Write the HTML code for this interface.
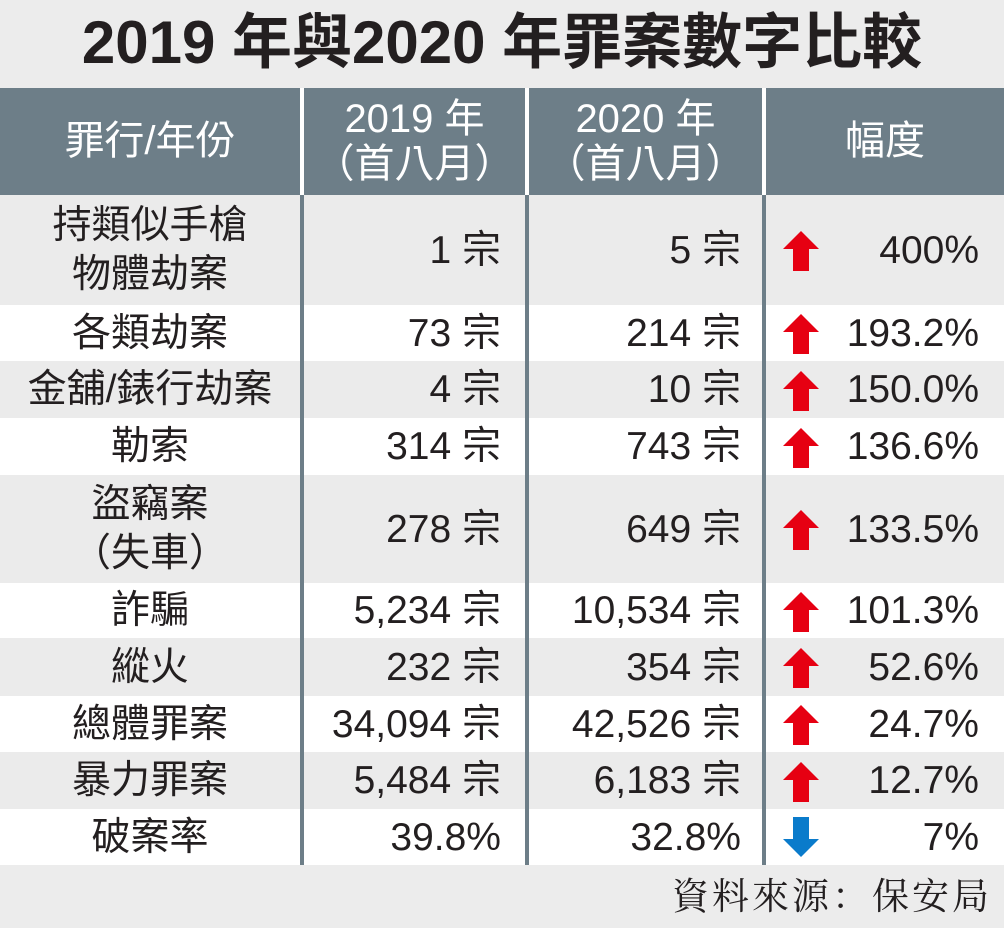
<!DOCTYPE html>
<html><head><meta charset="utf-8">
<style>
body{margin:0;width:1004px;height:928px;background:#ececec;position:relative;overflow:hidden;font-family:"Liberation Sans","Noto Sans CJK TC",sans-serif;color:#231f20}
.abs{position:absolute}
#title{left:0;top:0;width:1004px;height:86px;text-align:center;font-size:60px;font-weight:bold;line-height:86px;letter-spacing:0px}
#header{left:0;top:88px;width:1004px;height:107px;background:#6d7e88}
.hcell{position:absolute;top:88px;height:107px;color:#fff;font-size:40px;line-height:45px;display:flex;align-items:center;justify-content:center;text-align:center}
.row{position:absolute;left:0;width:1004px}
.cell{position:absolute;font-size:39px;line-height:49px;display:flex;align-items:center}
.vline{position:absolute;width:4px;background:#6d7e88}
.hv{position:absolute;width:4px;background:#fff;top:88px;height:107px}
#source{right:12px;top:864px;font-family:"Noto Serif CJK SC","Liberation Serif",serif;font-size:37px;line-height:58px;letter-spacing:3px}
</style></head>
<body>
<div id="title" class="abs">2019 年與2020 年罪案數字比較</div>
<div id="header" class="abs"></div>
<div class="hcell" style="left:0;width:300px">罪行/年份</div>
<div class="hcell" style="left:304px;width:221px">2019 年<br>（首八月）</div>
<div class="hcell" style="left:529px;width:233px">2020 年<br>（首八月）</div>
<div class="hcell" style="left:766px;width:238px">幅度</div>
<div class="hv" style="left:300px"></div>
<div class="hv" style="left:525px"></div>
<div class="hv" style="left:762px"></div>
<div id="body"></div>
<div id="source" class="abs">資料來源：保安局</div>
<script>
const crimes=["持類似手槍<br>物體劫案","各類劫案","金舖/錶行劫案","勒索","盜竊案<br>（失車）","詐騙","縱火","總體罪案","暴力罪案","破案率"];
const v2019=["1 宗","73 宗","4 宗","314 宗","278 宗","5,234 宗","232 宗","34,094 宗","5,484 宗","39.8%"];
const v2020=["5 宗","214 宗","10 宗","743 宗","649 宗","10,534 宗","354 宗","42,526 宗","6,183 宗","32.8%"];
const changes=["400%","193.2%","150.0%","136.6%","133.5%","101.3%","52.6%","24.7%","12.7%","7%"];
const directions=["up","up","up","up","up","up","up","up","up","down"];
const rowTops=[195,305,361,418,475,583,638,696,752,809,865];
const body=document.getElementById('body');
for(let i=0;i<crimes.length;i++){
  const t=rowTops[i],h=rowTops[i+1]-t;
  const r=document.createElement('div');
  
  
  r.className='row';r.style.top=t+'px';r.style.height=h+'px';
  r.style.background=i%2===0?'#ebebeb':'#ffffff';
  const mk=(html,left,width,just)=>{const c=document.createElement('div');c.className='cell';c.innerHTML=html;c.style.left=left+'px';c.style.width=width+'px';c.style.top='0';c.style.height=h+'px';c.style.justifyContent=just;c.style.textAlign='center';return c;};
  const c1=mk(crimes[i],0,300,'center');
  
  
  const c2=mk(v2019[i],304,197,'flex-end');
  
  
  const c3=mk(v2020[i],529,212,'flex-end');
  
  
  const c4=mk(changes[i],766,213,'flex-end');
  
  
  const up=directions[i]==='up';
  const a=document.createElementNS('http://www.w3.org/2000/svg','svg');
  
  
  a.setAttribute('width','40');a.setAttribute('height','44');
  a.style.position='absolute';a.style.left='781px';a.style.top=(h/2-22)+'px';
  a.innerHTML=up?'<polygon points="20,3 38,21 28,21 28,43 12,43 12,21 2,21" fill="#e60012"/>':'<polygon points="20,42 38,24 28,24 28,2 12,2 12,24 2,24" fill="#0a7bcb"/>';
  [c1,c2,c3,c4].forEach(c=>r.appendChild(c));r.appendChild(a);
  body.appendChild(r);
}
[300,525,762].forEach((x)=>{const l=document.createElement('div');
  
  
  l.className='vline';l.style.left=x+'px';l.style.top='195px';l.style.height='670px';body.appendChild(l);});
</script>
</body></html>
